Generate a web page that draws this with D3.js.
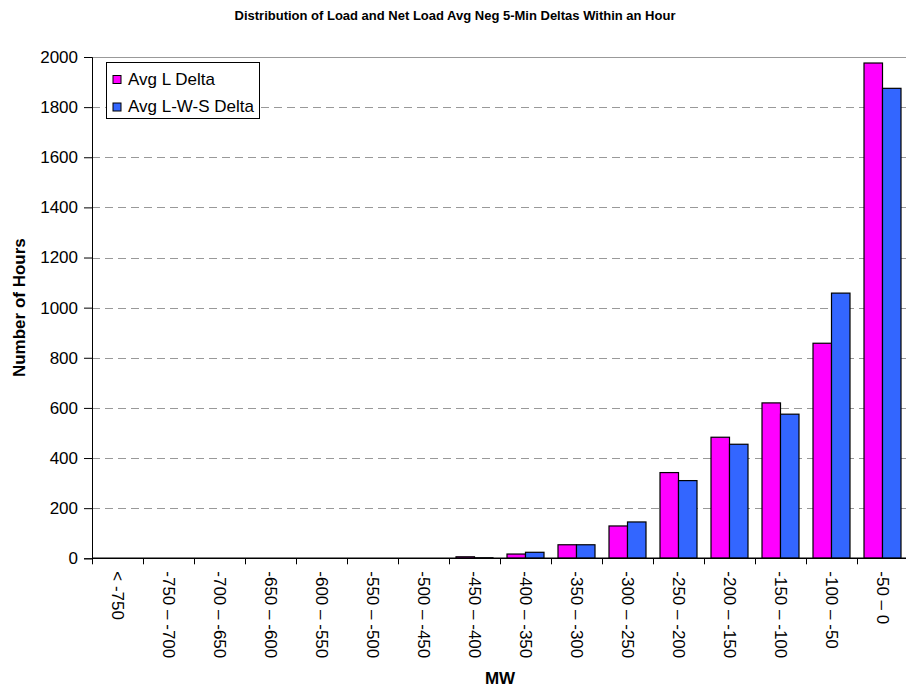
<!DOCTYPE html>
<html>
<head>
<meta charset="utf-8">
<script src="https://cdn.jsdelivr.net/npm/d3@7"></script>
<style>
  body { margin: 0; background: #fff; }
  text { font-family: "Liberation Sans", Arial, sans-serif; }
</style>
</head>
<body>
<div id="chart"></div>
<script>
// data
var categories = ["< -750", "-750 \u2013 -700", "-700 \u2013 -650", "-650 \u2013 -600", "-600 \u2013 -550",
  "-550 \u2013 -500", "-500 \u2013 -450", "-450 \u2013 -400", "-400 \u2013 -350", "-350 \u2013 -300",
  "-300 \u2013 -250", "-250 \u2013 -200", "-200 \u2013 -150", "-150 \u2013 -100", "-100 \u2013 -50", "-50 \u2013 0"];
var avgL = [0, 0, 0, 0, 0, 0, 0, 6, 17, 54, 129, 342, 483, 620, 858, 1976];
var avgLWS = [0, 0, 0, 0, 0, 0, 0, 2, 24, 54, 145, 310, 455, 575, 1058, 1875];
var seriesNames = ["Avg L Delta", "Avg L-W-S Delta"];
var seriesColors = ["#ff00ff", "#3366ff"];
var yTicks = [0, 200, 400, 600, 800, 1000, 1200, 1400, 1600, 1800, 2000];

var width = 906, height = 688;
var margin = {top: 57, left: 92, bottom: 130};
var plotBottom = height - margin.bottom + 0.3;

var svg = d3.select("#chart")
  .append("svg")
    .attr("width", width)
    .attr("height", height);

var x = d3.scaleBand()
  .domain(categories)
  .range([margin.left, margin.left + 51 * categories.length])
  .padding(0);

var groupW = 37;
var x1 = d3.scaleBand()
  .domain([0, 1])
  .range([(x.bandwidth() - groupW) / 2, (x.bandwidth() + groupW) / 2]);

var y = d3.scaleLinear()
  .domain([0, 2000])
  .range([plotBottom, margin.top]);

// title
svg.append("text")
  .attr("x", 455)
  .attr("y", 20)
  .attr("text-anchor", "middle")
  .style("font-size", "13px")
  .style("font-weight", "bold")
  .text("Distribution of Load and Net Load Avg Neg 5-Min Deltas Within an Hour");

// gridlines
svg.append("g")
  .selectAll("line")
  .data(yTicks.filter(function(d) { return d > 0; }))
  .enter()
  .append("line")
    .attr("x1", margin.left)
    .attr("x2", width)
    .attr("y1", function(d) { return Math.round(y(d)) + 0.5; })
    .attr("y2", function(d) { return Math.round(y(d)) + 0.5; })
    .attr("stroke", "#999")
    .attr("stroke-dasharray", function(d) { return d === 2000 ? null : "8,5"; });

// bars
var data = categories.map(function(c, i) { return {cat: c, vals: [avgL[i], avgLWS[i]]}; });
svg.append("g")
  .selectAll("g")
  .data(data)
  .enter()
  .append("g")
    .attr("transform", function(d) { return "translate(" + x(d.cat) + ",0)"; })
  .selectAll("rect")
  .data(function(d) { return d.vals.map(function(v, k) { return {k: k, v: v}; }); })
  .enter()
  .filter(function(d) { return d.v > 0; })
  .append("rect")
    .attr("x", function(d) { return x1(d.k); })
    .attr("y", function(d) { return y(d.v); })
    .attr("width", x1.bandwidth())
    .attr("height", function(d) { return y(0) - y(d.v); })
    .attr("fill", function(d) { return seriesColors[d.k]; })
    .attr("stroke", "#000")
    .attr("stroke-width", 1.2);

// y axis
var yAxis = svg.append("g")
  .attr("transform", "translate(" + margin.left + ",0)")
  .call(d3.axisLeft(y).tickValues(yTicks).tickSize(8).tickPadding(6).tickFormat(d3.format("d")));
yAxis.selectAll("text").style("font-size", "17px").style("font-family", "Liberation Sans, Arial, sans-serif");
yAxis.select(".domain").attr("stroke", "#000");

svg.append("text")
  .attr("transform", "translate(25," + (margin.top + plotBottom) / 2 + ") rotate(-90)")
  .attr("text-anchor", "middle")
  .style("font-size", "17px")
  .style("font-weight", "bold")
  .text("Number of Hours");

// x axis (ticks on category boundaries)
var xg = svg.append("g");
xg.append("line")
  .attr("x1", margin.left)
  .attr("x2", width)
  .attr("y1", y(0))
  .attr("y2", y(0))
  .attr("stroke", "#000")
  .attr("stroke-width", 1.5);
xg.selectAll(".tick")
  .data(categories)
  .enter()
  .append("line")
    .attr("x1", function(d) { return x(d) + 0.5; })
    .attr("x2", function(d) { return x(d) + 0.5; })
    .attr("y1", y(0))
    .attr("y2", y(0) + 6)
    .attr("stroke", "#000");
xg.selectAll(".lbl")
  .data(categories)
  .enter()
  .append("text")
    .attr("transform", function(d) {
      return "translate(" + (x(d) + x.bandwidth() / 2) + "," + (y(0) + 13) + ") rotate(90)";
    })
    .attr("dy", "0.35em")
    .style("font-size", "17px")
    .style("white-space", "pre")
    .text(function(d) { return d; });

svg.append("text")
  .attr("x", 500)
  .attr("y", 684)
  .attr("text-anchor", "middle")
  .style("font-size", "17px")
  .style("font-weight", "bold")
  .text("MW");

// legend
var legend = svg.append("g").attr("transform", "translate(106.5,62.5)");
legend.append("rect")
  .attr("width", 153)
  .attr("height", 56)
  .attr("fill", "#fff")
  .attr("stroke", "#000");
seriesNames.forEach(function(name, i) {
  legend.append("rect")
    .attr("x", 6.5)
    .attr("y", 13 + i * 27.5)
    .attr("width", 8)
    .attr("height", 8)
    .attr("fill", seriesColors[i])
    .attr("stroke", "#000");
  legend.append("text")
    .attr("x", 21.5)
    .attr("y", 22.5 + i * 27)
    .style("font-size", "17px")
    .text(name);
});
</script>
</body>
</html>
